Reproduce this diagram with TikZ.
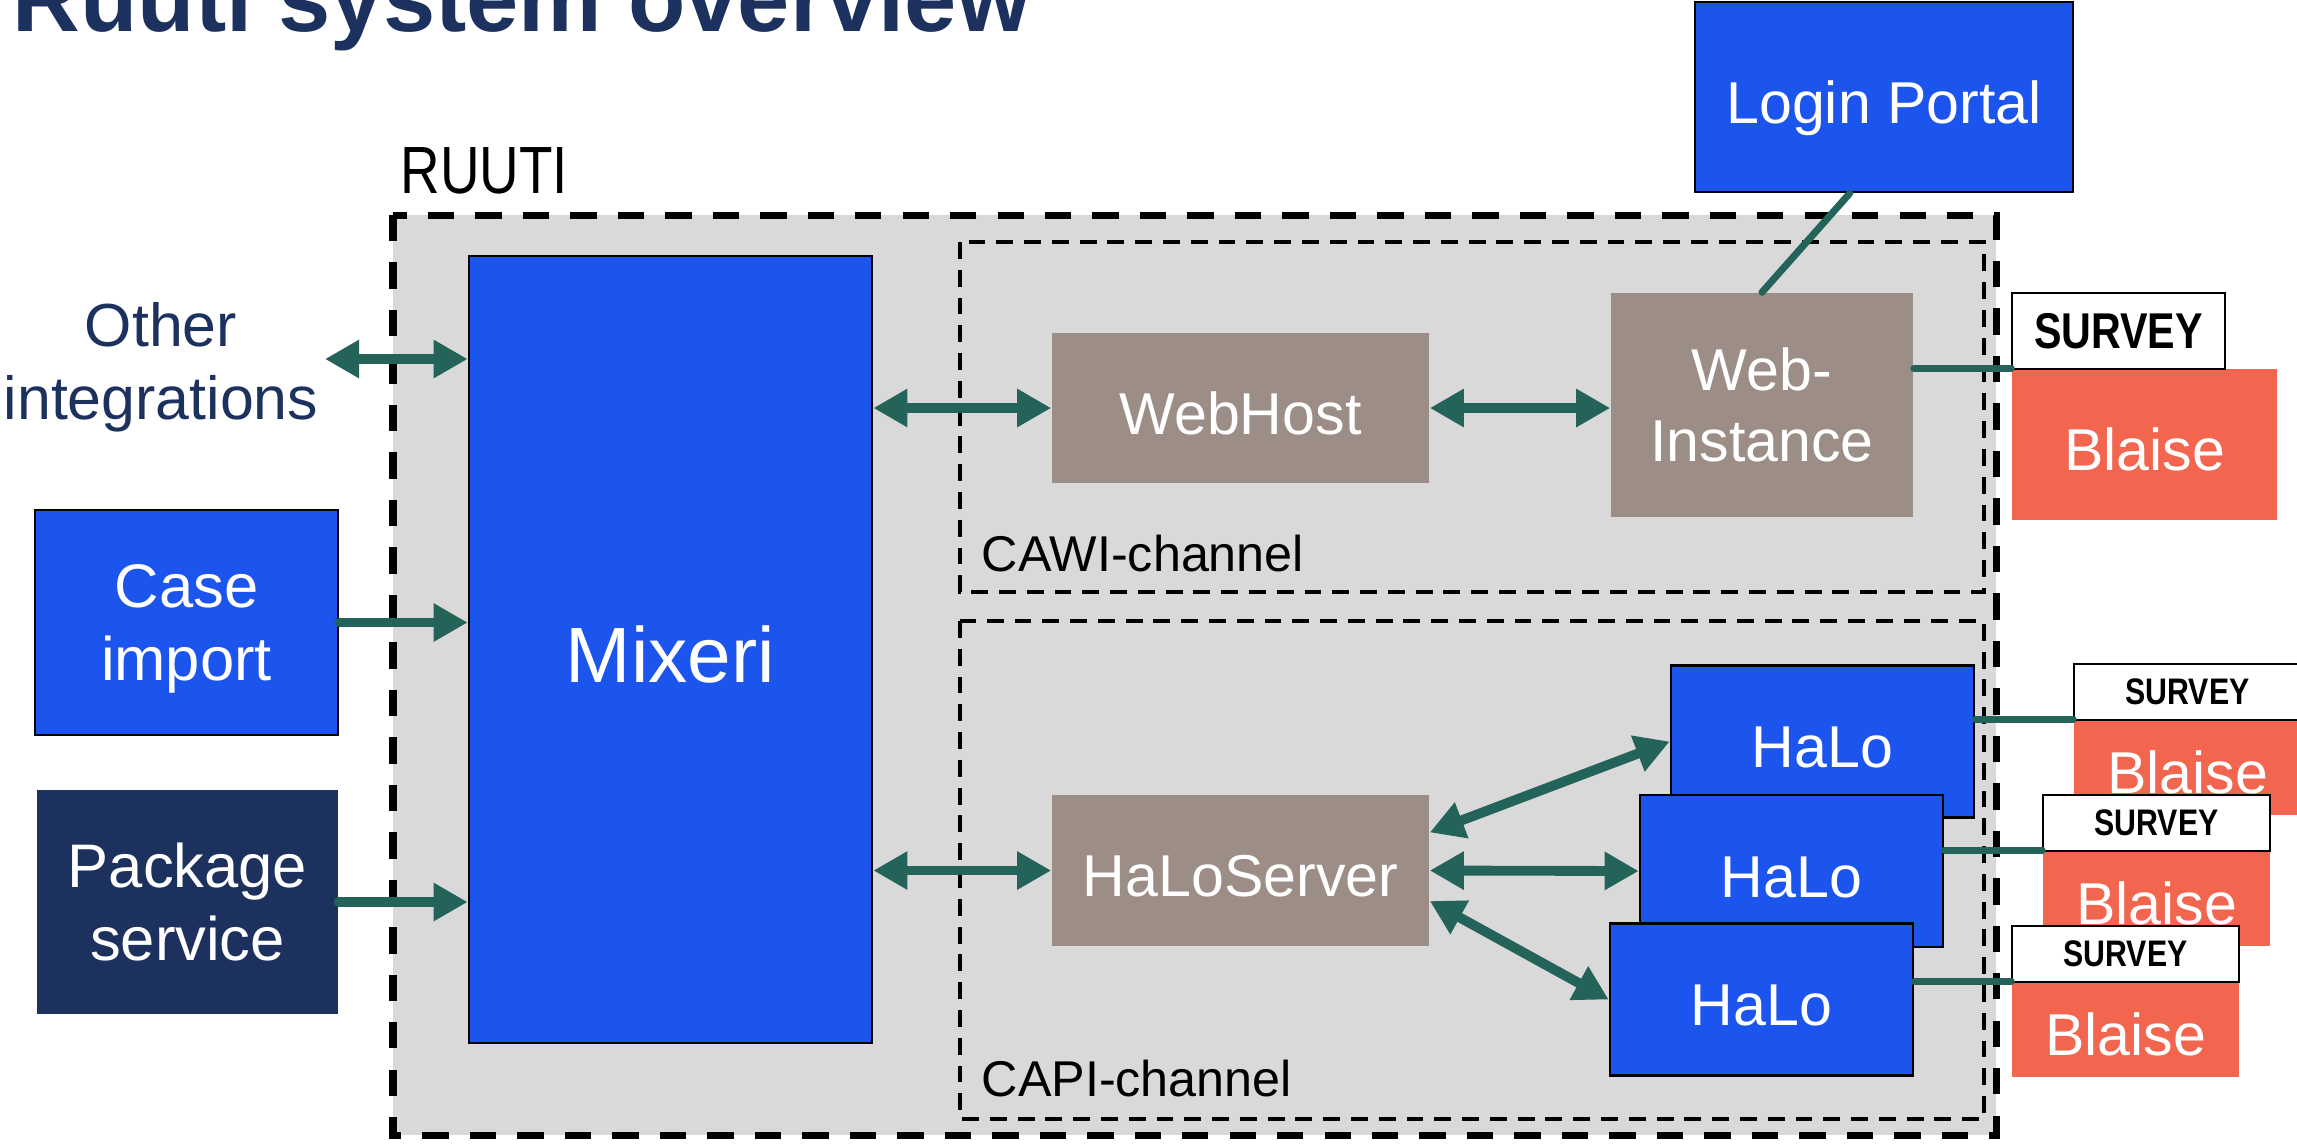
\documentclass[tikz,border=0pt]{standalone}
\usepackage{fontspec}
\setmainfont{Liberation Sans}
\newfontfamily\narrowfont[FakeStretch=0.82]{Liberation Sans}
\usetikzlibrary{arrows.meta,calc}

\definecolor{ruutiblue}{RGB}{28,84,238}
\definecolor{ruutinavy}{RGB}{28,49,94}
\definecolor{ruutigray}{RGB}{217,217,217}
\definecolor{ruutibrown}{RGB}{156,142,135}
\definecolor{ruuticoral}{RGB}{242,102,79}
\definecolor{ruutiteal}{RGB}{35,99,89}

\begin{document}
\begin{tikzpicture}[x=0.01cm, y=-0.01cm,
        bluebox/.style={draw=black, line width=0.7pt, fill=ruutiblue, text=white, inner sep=0pt, align=center, font=\fontsize{16.8}{20}\selectfont},
        servbox/.style={fill=ruutibrown, text=white, inner sep=0pt, align=center, font=\fontsize{16.8}{20}\selectfont},
        blaisebox/.style={fill=ruuticoral, text=white, inner sep=0pt, font=\fontsize{16.8}{20}\selectfont, text height=15pt, text depth=0pt},
        surveybox/.style={draw=black, line width=0.5pt, fill=white, inner sep=0pt, font=\narrowfont\bfseries\fontsize{10.5}{10.5}\selectfont},
        oneline/.style={text height=15pt, text depth=0pt},
        channel/.style={draw=black, line width=0.9pt, dash pattern=on 4.8pt off 3.1pt},
        link/.style={ruutiteal, line width=2.8pt, {Triangle[length=9.7pt,width=10.3pt]}-{Triangle[length=9.7pt,width=10.3pt]}},
        feed/.style={ruutiteal, line width=2.8pt, line cap=round, -{Triangle[length=9.7pt,width=10.3pt]}},
        wire/.style={ruutiteal, line width=2pt, line cap=round}]
            %\draw[lightgray] (0, 0) grid[step=1cm] (2297, 1144);
            \useasboundingbox (0, 0) rectangle (2297, 1144);
            \clip (0, 0) rectangle (2297, 1144);

            \node[anchor=base west, inner sep=0pt, text=ruutinavy, font=\bfseries\fontsize{26.7}{30}\selectfont] (title) at (12, 31) {Ruuti system overview};

            % RUUTI frame
            \draw[line width=2pt, dash pattern=on 7.5pt off 6pt, fill=ruutigray] (393, 215) rectangle (1996, 1135);
            \node[anchor=base west, inner sep=0pt, font=\narrowfont\fontsize{19}{19}\selectfont] (ruuti) at (400, 193) {RUUTI};

            \draw[channel] (960, 242) rectangle (1984, 592);
            \node[anchor=base west, inner sep=0pt, font=\fontsize{14.3}{14}\selectfont] (cawi) at (981, 571) {CAWI-channel};
            \draw[channel] (960, 621) rectangle (1984, 1119);
            \node[anchor=base west, inner sep=0pt, font=\fontsize{14.3}{14}\selectfont] (capi) at (981, 1096) {CAPI-channel};

            % left side
            \node[text=ruutinavy, align=center, inner sep=0pt, font=\fontsize{17.3}{20.8}\selectfont] (other) at (161, 367) {Other\\integrations};
            \node[bluebox, minimum width=3.03cm, minimum height=2.25cm, text depth=0pt, font=\fontsize{17.5}{21}\selectfont] (caseimport) at (186.5, 622.5) {Case\\import};
            \node[fill=ruutinavy, text=white, align=center, inner sep=0pt, minimum width=3.01cm, minimum height=2.24cm, font=\fontsize{17.5}{21}\selectfont] (package) at (187.5, 902) {Package\\service};
            \node[bluebox, minimum width=4.03cm, minimum height=7.87cm, text height=18.8pt, text depth=0pt, font=\fontsize{22.3}{26}\selectfont] (mixeri) at (670.5, 649.5) {Mixeri};

            % channels
            \node[servbox, oneline, minimum width=3.77cm, minimum height=1.5cm] (webhost) at (1240.5, 408) {WebHost};
            \node[servbox, minimum width=3.02cm, minimum height=2.24cm] (webinst) at (1762, 405) {Web-\\Instance};
            \node[bluebox, oneline, minimum width=3.78cm, minimum height=1.9cm] (login) at (1884, 97) {Login Portal};
            \node[servbox, oneline, minimum width=3.77cm, minimum height=1.51cm] (haloserver) at (1240.5, 870.5) {HaLoServer};
            \node[bluebox, oneline, minimum width=3.03cm, minimum height=1.52cm] (halo1) at (1822.5, 741.5) {HaLo};
            \node[bluebox, oneline, minimum width=3.03cm, minimum height=1.52cm] (halo2) at (1791.5, 871) {HaLo};
            \node[bluebox, oneline, minimum width=3.03cm, minimum height=1.52cm] (halo3) at (1761.5, 999.5) {HaLo};

            % Blaise
            \node[blaisebox, minimum width=2.65cm, minimum height=1.51cm] (blaise0) at (2144.5, 444.5) {Blaise};
            \node[surveybox, minimum width=2.13cm, minimum height=0.76cm, font=\narrowfont\bfseries\fontsize{14.3}{14}\selectfont] (survey0) at (2118.5, 331) {SURVEY};
            \node[blaisebox, minimum width=2.27cm, minimum height=0.95cm] (blaise1) at (2187.5, 767.5) {Blaise};
            \node[surveybox, minimum width=2.27cm, minimum height=0.56cm] (survey1) at (2187.5, 692) {SURVEY};
            \node[blaisebox, minimum width=2.27cm, minimum height=0.95cm] (blaise2) at (2156.5, 898.5) {Blaise};
            \node[surveybox, minimum width=2.27cm, minimum height=0.56cm] (survey2) at (2156.5, 823) {SURVEY};
            \node[blaisebox, minimum width=2.27cm, minimum height=0.95cm] (blaise3) at (2125.5, 1029.5) {Blaise};
            \node[surveybox, minimum width=2.27cm, minimum height=0.56cm] (survey3) at (2125.5, 954) {SURVEY};

            % connections
            \coordinate (otherend) at (325, 359);
            \draw[link] (otherend) -- (otherend -| mixeri.west);
            \draw[feed] (caseimport.east) -- (caseimport.east -| mixeri.west);
            \draw[feed] (package.east) -- (package.east -| mixeri.west);
            \draw[link] (webhost.west -| mixeri.east) -- (webhost.west);
            \draw[link] (webhost.east) -- (webhost.east -| webinst.west);
            \draw[link] (haloserver.west -| mixeri.east) -- (haloserver.west);
            \draw[link] ($(haloserver.north east)!0.25!(haloserver.south east)$) -- (halo1.west);
            \draw[link] (haloserver.east) -- (halo2.west);
            \draw[link] ($(haloserver.north east)!0.7!(haloserver.south east)$) -- (halo3.west);

            \draw[wire] ($(login.south west)!0.41!(login.south east)$) -- (webinst.north);
            \draw[wire] (webinst.east |- blaise0.north west) -- (blaise0.north west);
            \draw[wire] (halo1.east |- blaise1.north west) -- (blaise1.north west);
            \draw[wire] (halo2.east |- blaise2.north west) -- (blaise2.north west);
            \draw[wire] (halo3.east |- blaise3.north west) -- (blaise3.north west);
        \end{tikzpicture}
\end{document}
